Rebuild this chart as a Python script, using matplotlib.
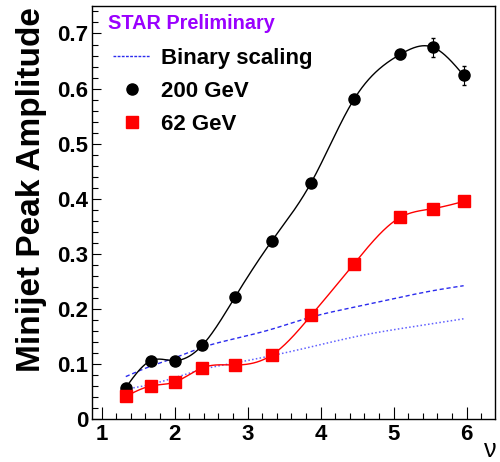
import numpy as np
import matplotlib
matplotlib.use("Agg")
import matplotlib.pyplot as plt
from matplotlib.lines import Line2D
from matplotlib.ticker import MultipleLocator, FuncFormatter

plt.rcParams['font.family'] = ['Liberation Sans', 'DejaVu Sans']

# centrality (nu) values
nu = [1.33, 1.675, 2.0, 2.38, 2.83, 3.33, 3.87, 4.46, 5.09, 5.54, 5.96]

# minijet peak amplitude, 200 GeV and 62 GeV
amp_200 = [0.057, 0.106, 0.106, 0.134, 0.222, 0.323, 0.429, 0.581, 0.662, 0.675, 0.624]
err_200 = [0.003, 0.004, 0.004, 0.004, 0.005, 0.005, 0.006, 0.007, 0.008, 0.017, 0.017]
amp_62 = [0.041, 0.060, 0.067, 0.093, 0.098, 0.116, 0.188, 0.282, 0.366, 0.382, 0.395]
err_62 = [0.002, 0.003, 0.003, 0.003, 0.003, 0.004, 0.004, 0.005, 0.006, 0.006, 0.006]

# binary scaling references
binary_200 = [0.077, 0.096, 0.111, 0.130, 0.146, 0.163, 0.185, 0.203, 0.221, 0.233, 0.242]
binary_62 = [0.054, 0.063, 0.075, 0.090, 0.102, 0.115, 0.131, 0.149, 0.164, 0.173, 0.182]


def smooth(x, y, num=400):
    # natural cubic spline through the points (like ROOT "C" option)
    x = np.asarray(x, float)
    y = np.asarray(y, float)
    n = len(x)
    h = np.diff(x)
    A = np.zeros((n, n))
    b = np.zeros(n)
    A[0, 0] = A[-1, -1] = 1
    for i in range(1, n - 1):
        A[i, i - 1] = h[i - 1]
        A[i, i] = 2 * (h[i - 1] + h[i])
        A[i, i + 1] = h[i]
        b[i] = 6 * ((y[i + 1] - y[i]) / h[i] - (y[i] - y[i - 1]) / h[i - 1])
    M = np.linalg.solve(A, b)
    xs = np.linspace(x[0], x[-1], num)
    k = np.clip(np.searchsorted(x, xs) - 1, 0, n - 2)
    t0 = x[k + 1] - xs
    t1 = xs - x[k]
    hk = h[k]
    ys = (M[k] * t0**3 / (6 * hk) + M[k + 1] * t1**3 / (6 * hk)
          + (y[k] / hk - M[k] * hk / 6) * t0 + (y[k + 1] / hk - M[k + 1] * hk / 6) * t1)
    return xs, ys


fig = plt.figure(figsize=(5.0, 4.62), dpi=100)
ax = fig.add_axes([0.1834, 0.0931, 0.8066, 0.894])

ax.plot(*smooth(nu, binary_200), color='#2b2bee', lw=1.0, ls=(0, (3, 2)))
ax.plot(*smooth(nu, binary_62), color='#6060ff', lw=1.1, ls=(0, (1, 1.5)))

ax.plot(*smooth(nu, amp_200), color='black', lw=1.0)
ax.plot(*smooth(nu, amp_62), color='red', lw=1.0)

ax.errorbar(nu, amp_200, yerr=err_200, fmt='o', color='black', ms=8,
            elinewidth=0.8, capsize=1.2, zorder=5)
ax.errorbar(nu, amp_62, yerr=err_62, fmt='s', color='red', ms=8,
            elinewidth=0.8, capsize=1.2, zorder=5)

ax.set_xlim(0.863, 6.39)
ax.set_ylim(0, 0.75)

ax.xaxis.set_major_locator(MultipleLocator(1))
ax.xaxis.set_minor_locator(MultipleLocator(0.2))
ax.yaxis.set_major_locator(MultipleLocator(0.1))
ax.yaxis.set_minor_locator(MultipleLocator(0.02))
ax.yaxis.set_major_formatter(FuncFormatter(lambda v, p: '0' if abs(v) < 1e-9 else f'{v:.1f}'))

ax.tick_params(axis='both', which='both', direction='in', top=False, right=False,
               width=0.8, labelsize=16)
ax.tick_params(axis='y', which='major', length=6.5, pad=2.5)
ax.tick_params(axis='y', which='minor', length=4.3)
ax.tick_params(axis='x', which='major', length=8.6, pad=3.5)
ax.tick_params(axis='x', which='minor', length=4.3)
for lab in ax.get_xticklabels() + ax.get_yticklabels():
    lab.set_fontweight('bold')
for sp in ax.spines.values():
    sp.set_linewidth(1.0)

fig.text(16 / 500, 1 - 7 / 462, 'Minijet Peak Amplitude', rotation=90,
         ha='left', va='top', fontsize=24, fontweight='bold')

ax.set_xlabel('ν', fontsize=18)
ax.xaxis.set_label_coords(1.004, -0.093)
ax.xaxis.label.set_ha('right')
ax.xaxis.label.set_va('baseline')

ax.text(0.040, 0.958, 'STAR Preliminary', transform=ax.transAxes, color='#9a00ff',
        fontsize=14.3, fontweight='bold', ha='left', va='center')

handles = [
    Line2D([], [], color='#2b2bee', lw=1.0, ls=(0, (2, 1))),
    Line2D([], [], color='black', marker='o', ms=8, ls='none'),
    Line2D([], [], color='red', marker='s', ms=8, ls='none'),
]
leg = ax.legend(handles, ['Binary scaling', '200 GeV', '62 GeV'], loc='upper left',
                bbox_to_anchor=(0.0528, 0.898), frameon=False, borderpad=0,
                borderaxespad=0, handlelength=1.67, handletextpad=0.5,
                labelspacing=0.53, prop={'size': 16, 'weight': 'bold'})

fig.savefig('out.png', dpi=100)
